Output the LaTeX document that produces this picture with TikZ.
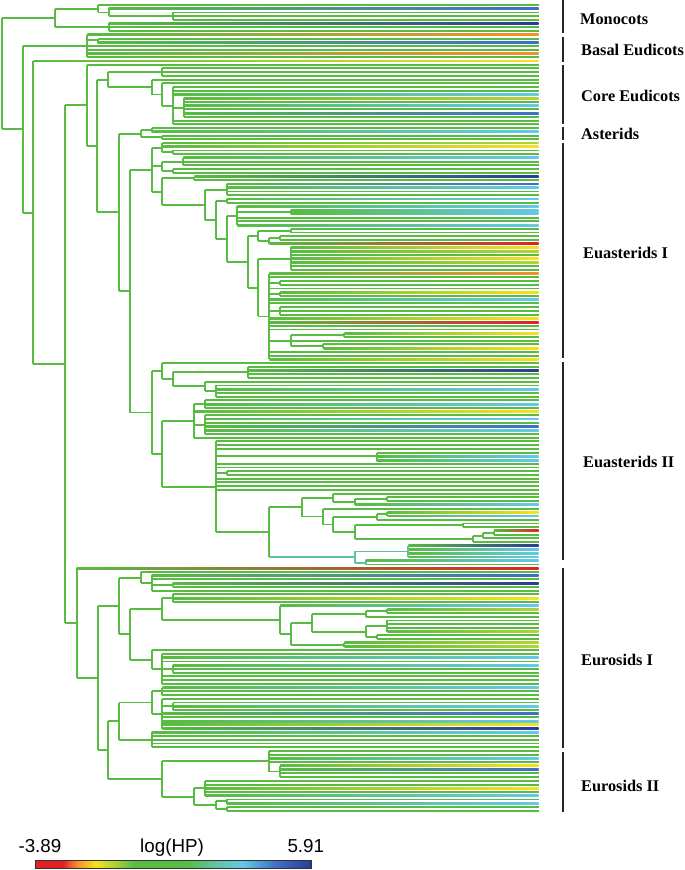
\documentclass[tikz,border=0pt]{standalone}
\usepackage{fontspec}
\setmainfont{Liberation Serif}
\newfontfamily\hpfont{Liberation Sans}

\definecolor{tg}{RGB}{88,187,66}
\definecolor{hpred}{RGB}{226,32,38}
\definecolor{hporange}{RGB}{246,142,48}
\definecolor{hpyellow}{RGB}{246,226,30}
\definecolor{hpyg}{RGB}{178,212,52}
\definecolor{hpteal}{RGB}{96,196,170}
\definecolor{hpcyan}{RGB}{100,200,232}
\definecolor{hpblue}{RGB}{62,110,200}
\definecolor{hpdblue}{RGB}{44,58,148}

\pgfdeclarehorizontalshading{hpscale}{100bp}{color(0bp)=(hpred); color(25bp)=(hpred);
  color(30bp)=(hpred); color(32.5bp)=(hporange); color(36bp)=(hpyellow); color(39bp)=(hpyg);
  color(43bp)=(tg); color(52bp)=(tg); color(58bp)=(hpteal); color(62.5bp)=(hpcyan);
  color(68.5bp)=(hpblue); color(75bp)=(hpdblue); color(100bp)=(hpdblue)}

% tree walker: \Nd[style]{x}{children}, \Lf[tip style]
\newcount\leafno
\def\tipx{538.5}
\def\leafgap{3.73}
\def\firsty{5}
\def\px{1.7}
\let\fy\relax
\def\gotchild{\ifx\fy\relax\let\fy\cy\fi\let\ly\cy}
\newcommand\Lf[1][]{%
  \pgfmathsetmacro\tmpy{\firsty+\leafgap*\the\leafno}%
  \global\advance\leafno by 1
  \xdef\cy{\tmpy}%
  \ifx\relax#1\relax
    \draw[br] (\px,\cy) -- (\tipx,\cy);%
  \else
    \shade[#1] (\px,\cy-0.95) rectangle (\tipx,\cy+0.95);%
  \fi
  \gotchild}
\newcommand\Nd[3][br]{%
  \begingroup
    \edef\ppx{\px}%
    \def\px{#2}%
    \let\fy\relax
    #3%
    \pgfmathsetmacro\myy{(\fy+\ly)/2}%
    \draw[#1] (\ppx,\myy) -- (#2,\myy) (#2,\fy) -- (#2,\ly);%
    \xdef\cy{\myy}%
  \endgroup
  \gotchild}

\begin{document}
\begin{tikzpicture}[x=1pt, y=-1pt,
    br/.style={draw=tg, line width=1.9pt},
    brc/.style={draw=tg!45!hpcyan, line width=1.9pt},
    tipr/.style={left color=tg, middle color=hpyellow, right color=hpred},
    tipo/.style={left color=tg, middle color=hpyellow!60!tg, right color=hporange},
    tipy/.style={left color=tg, right color=hpyellow},
    tipyg/.style={left color=tg, right color=hpyg},
    tipc/.style={left color=tg, right color=hpcyan},
    tipb/.style={left color=tg, middle color=hpcyan, right color=hpblue},
    tipdb/.style={left color=tg, middle color=hpcyan, right color=hpdblue},
    cladebar/.style={line width=2.4pt, black!85},
    clade/.style={font=\fontsize{16.3}{19}\selectfont\bfseries, anchor=base west, inner sep=0pt},
    scalelabel/.style={font=\hpfont\fontsize{18.8}{22}\selectfont, anchor=base west, inner sep=0pt}
  ]
  \useasboundingbox (0,0) rectangle (685,870);

  \Nd{1.7}{%
    \Nd{55}{%
      \Nd{97.7}{\Lf\Nd{108.7}{\Lf[tipb]\Nd{172.7}{\Lf\Lf\Lf}}}%
      \Nd{108.7}{\Lf[tipdb]\Lf\Lf}}%
    \Nd{22.7}{%
      \Nd{87.3}{\Lf[tipo]\Nd{97.7}{\Lf\Lf[tipb]}\Lf\Lf\Lf[tipo]\Lf}%
      \Nd{33.3}{%
        \Lf[tipy]%
        \Nd{65.3}{%
          \Nd{87.3}{%
            \Lf
            \Nd{97.3}{%
              \Nd{108.3}{%
                \Nd{162.3}{\Lf\Lf\Lf}%
                \Nd{151.7}{\Lf\Nd{162.3}{\Lf\Nd{173.3}{\Lf\Lf\Lf[tipc]%
                  \Nd{184}{\Lf[tipyg]\Lf\Lf[tipc]\Lf\Lf[tipb]\Lf}\Lf\Lf}}}}%
              \Nd{119.3}{%
                \Nd{140.7}{\Nd{151.7}{\Lf\Lf[tipc]}\Nd{162.3}{\Lf\Lf}}%
                \Nd{130}{%
                  \Nd{151.7}{%
                    \Nd{162.3}{\Lf[tipyg]\Lf[tipy]\Nd{172.7}{\Lf\Lf}}%
                    \Nd{162.3}{\Nd{183.3}{\Lf[tipc]\Lf\Lf}\Nd{172.7}{\Lf\Lf}}%
                    \Nd{162.3}{%
                      \Nd{194.3}{\Lf[tipdb]\Lf}%
                      \Nd{205}{%
                        \Nd{226.7}{\Lf[tipb]\Lf[tipc]\Lf\Lf}%
                        \Nd{216}{%
                          \Nd{226.7}{\Lf[tipc]\Lf}%
                          \Nd{226.7}{%
                            \Nd{237.3}{\Lf[tipc]\Nd{290.7}{\Lf[tipc]\Lf[tipc]}\Lf\Lf\Lf[tipc]}%
                            \Nd{247.7}{%
                              \Nd{258.3}{\Nd{290.7}{\Lf\Lf}\Nd{269.3}{\Nd{280}{\Lf\Lf}\Lf[tipr]}}%
                              \Nd{258.3}{%
                                \Nd{290.7}{\Lf[tipy]\Lf[tipyg]\Lf\Lf[tipy]\Lf[tipyg]\Lf\Lf}%
                                \Nd{269.3}{\Lf[tipo]\Lf\Nd{280}{\Lf\Lf}\Lf\Nd{280}{\Lf[tipy]\Lf}\Lf[tipc]\Lf
                                  \Nd{280}{\Lf\Lf\Lf}\Lf[tipy]\Lf[tipr]\Lf\Lf
                                  \Nd{290.7}{\Nd{344.3}{\Lf[tipy]\Lf}\Lf\Nd{323.3}{\Lf\Lf[tipy]}}%
                                  \Lf\Lf\Lf[tipy]}}}}}}}}%
                  \Nd{151.7}{%
                    \Nd{162.3}{\Lf\Nd{172.7}{\Nd{247.7}{\Lf\Lf[tipdb]\Lf\Lf}\Nd{205}{\Lf\Nd{216}{\Lf\Lf[tipc]\Lf\Lf}}}}%
                    \Nd{162.3}{%
                      \Nd{194.3}{\Nd{205}{\Lf\Lf[tipc]\Lf}\Lf[tipy]\Nd{205}{\Lf\Lf[tipc]\Lf\Lf[tipb]\Lf[tipc]\Lf}\Lf}%
                      \Nd{216}{\Lf\Lf\Lf\Nd{376.7}{\Lf\Lf[tipc]\Lf[tipc]}\Lf\Lf\Nd{226.7}{\Lf\Lf}\Lf\Lf\Lf\Lf
                        \Nd{269.3}{%
                          \Nd{301.7}{%
                            \Nd{333.3}{\Lf\Nd{355}{\Nd{387.3}{\Lf\Lf}\Lf[tipc]}}%
                            \Nd{323.3}{\Lf\Nd{333.3}{\Nd{376.7}{\Nd{387.3}{\Lf[tipy]\Lf[tipc]}\Lf}%
                              \Nd{355}{\Nd{462.7}{\Lf\Lf}\Nd{473.3}{\Nd{483.3}{\Nd{494}{\Lf[tipr]\Lf}\Lf}\Lf}}}}}%
                          \Nd[brc]{355}{\Nd[brc]{408.3}{\Lf[tipdb]\Lf[tipc]\Lf[tipc]\Lf[tipc]}\Nd[brc]{365.7}{\Lf[tipc]\Lf}}}}}}}}}}%
          \Nd{76.7}{%
            \Lf[tipr]%
            \Nd{97.7}{%
              \Nd{119.3}{%
                \Nd{140.7}{\Lf\Nd{151.7}{\Lf[tipb]\Lf\Nd{172.7}{\Lf[tipdb]\Lf}\Lf}}%
                \Nd{130}{%
                  \Nd{162.3}{\Nd{172.7}{\Lf\Lf[tipy]\Lf}%
                    \Nd{280}{\Lf[tipc]\Nd{290.7}{\Nd{312.3}{\Nd{365.7}{\Nd{387.3}{\Lf[tipyg]\Lf}\Lf}%
                      \Nd{365.7}{\Nd{387.3}{\Lf\Lf\Lf\Lf[tipyg]}\Nd{376.7}{\Lf\Lf}}}%
                      \Nd{344.3}{\Lf[tipyg]\Lf[tipyg]}}}}%
                  \Nd{151.7}{\Lf\Nd{162.3}{\Lf\Lf[tipc]\Lf\Nd{172.7}{\Lf[tipc]\Lf\Lf}\Lf\Lf\Lf}}}}%
              \Nd{108.3}{%
                \Nd{119.3}{%
                  \Nd{151.7}{\Nd{162.3}{\Lf[tipc]\Lf\Lf}%
                    \Nd{162.3}{\Lf\Nd{172.7}{\Lf\Lf[tipc]\Lf}\Lf[tipb]\Lf\Lf[tipc]\Lf[tipy]\Lf[tipdb]}}%
                  \Nd{151.7}{\Lf[tipc]\Lf\Lf\Lf\Lf}}%
                \Nd{162.3}{%
                  \Nd{269.3}{\Lf\Lf\Lf[tipc]\Lf\Nd{280}{\Lf[tipy]\Lf[tipb]\Lf\Lf}}%
                  \Nd{194.3}{\Nd{205}{\Lf\Lf\Lf[tipy]\Lf\Lf[tipc]}%
                    \Nd{216}{\Nd{226.7}{\Lf\Lf[tipc]}\Nd{226.7}{\Lf\Lf}}}}}}}}}}}

  \draw[cladebar] (562.7,0) -- (562.7,33.3);
  \draw[cladebar] (562.7,37.3) -- (562.7,61.7);
  \draw[cladebar] (562.7,65) -- (562.7,124);
  \draw[cladebar] (562.7,126.7) -- (562.7,140);
  \draw[cladebar] (562.7,143.3) -- (562.7,357.5);
  \draw[cladebar] (562.7,362) -- (562.7,560);
  \draw[cladebar] (562.7,568) -- (562.7,748);
  \draw[cladebar] (562.7,752) -- (562.7,812);

  \node[clade] (monocots) at (580,24) {Monocots};
  \node[clade] (basal) at (581,55) {Basal Eudicots};
  \node[clade] (core) at (581,101.7) {Core Eudicots};
  \node[clade] (asterids) at (581,139.3) {Asterids};
  \node[clade] (euast1) at (583,258.5) {Euasterids I};
  \node[clade] (euast2) at (583,467.5) {Euasterids II};
  \node[clade] (euros1) at (581,665.5) {Eurosids I};
  \node[clade] (euros2) at (581,791.5) {Eurosids II};

  \shade[shading=hpscale] (35.3,860) rectangle (311.7,868.3);
  \draw[black!80, line width=0.8pt] (35.3,860) rectangle (311.7,868.3);
  \node[scalelabel] (hpmin) at (18.3,852.3) {-3.89};
  \node[scalelabel] (hpname) at (140,852.3) {log(HP)};
  \node[scalelabel] (hpmax) at (287.3,852.3) {5.91};
\end{tikzpicture}
\end{document}
